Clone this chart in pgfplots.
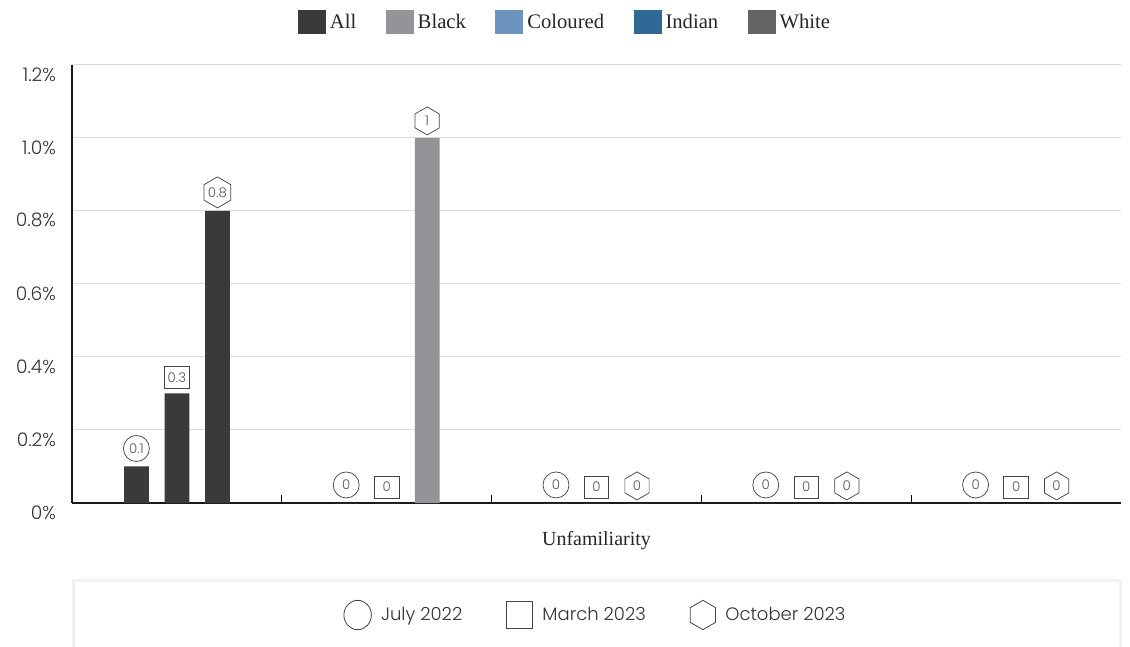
\documentclass[border=0pt]{standalone}
\usepackage{pgfplots}
\pgfplotsset{compat=1.18}
\usetikzlibrary{shapes.geometric}
\usepackage{fontspec}
\setmainfont{Liberation Serif}
\newfontfamily\lightsans{Poppins Light}
\definecolor{cAll}{HTML}{3A3A3A}
\definecolor{cBlack}{HTML}{949398}
\definecolor{cColoured}{HTML}{6C94BF}
\definecolor{cIndian}{HTML}{2E6894}
\definecolor{cWhite}{HTML}{666463}
\definecolor{gridc}{HTML}{DCDCDC}
\definecolor{shapec}{HTML}{444444}
\definecolor{labtext}{HTML}{555555}
\definecolor{boxc}{HTML}{F2F2F2}
\begin{document}
\begin{tikzpicture}
\useasboundingbox (0,0) rectangle (847.5pt,484.5pt);
% bottom legend frame
\draw[boxc, line width=2.2pt] (55.1pt,-5pt) -- (55.1pt,49.4pt) -- (840.4pt,49.4pt) -- (840.4pt,-5pt);
\begin{axis}[
  at={(54pt,107.25pt)}, anchor=south west,
  scale only axis, width=786.75pt, height=328.5pt,
  xmin=-0.5, xmax=4.5, ymin=0, ymax=1.2,
  axis x line*=bottom, axis y line*=left,
  axis line style={-, black!90, line width=0.9pt},
  ytick={0,0.2,0.4,0.6,0.8,1.0,1.2},
  yticklabels={0\%,0.2\%,0.4\%,0.6\%,0.8\%,1.0\%,1.2\%},
  ymajorgrids, grid style={gridc, line width=0.75pt},
  ytick style={draw=none},
  yticklabel style={font=\lightsans\fontsize{14}{16}\selectfont, text=black!80, yshift=-7pt, xshift=-8.5pt},
  xtick={0.5,1.5,2.5,3.5}, xticklabels={},
  xtick align=inside, major tick length=6pt,
  xtick style={black, line width=0.75pt},
  xlabel={Unfamiliarity},
  x label style={at={(axis description cs:0.5,0)}, anchor=center, yshift=-28.5pt, font=\fontsize{15}{18}\selectfont, text=black!85},
  /pgf/number format/assume math mode=true,
  legend columns=5,
  legend style={at={(0.471,1)}, anchor=center, yshift=32.25pt, draw=none, fill=none,
    font=\fontsize{15.5}{18}\selectfont, text=black!85,
    /tikz/every even column/.append style={column sep=19pt},
    nodes={inner sep=3pt}},
  swatch/.style={legend image code/.code={\fill[##1] (0pt,-9pt) rectangle (21pt,9pt);}},
  lab/.style={only marks, mark=*, mark size=0pt, mark options={draw=none, fill=none}, forget plot,
    nodes near coords, point meta=y,
    every node near coord/.append style={anchor=south, yshift=3.5pt, draw=shapec, line width=0.55pt,
      inner sep=0pt, text=labtext, font=\lightsans\fontsize{10}{12}\selectfont}},
]
\addplot[ybar, bar width=0.118, bar shift=0pt, draw=none, fill=cAll, swatch] coordinates {(-0.193,0.1) (0,0.3) (0.193,0.8)};
\addlegendentry{All}
\addplot[ybar, bar width=0.118, bar shift=0pt, draw=none, fill=cBlack, swatch] coordinates {(0.807,0) (1,0) (1.193,1)};
\addlegendentry{Black}
\addplot[ybar, bar width=0.118, bar shift=0pt, draw=none, fill=cColoured, swatch] coordinates {(1.807,0) (2,0) (2.193,0)};
\addlegendentry{Coloured}
\addplot[ybar, bar width=0.118, bar shift=0pt, draw=none, fill=cIndian, swatch] coordinates {(2.807,0) (3,0) (3.193,0)};
\addlegendentry{Indian}
\addplot[ybar, bar width=0.118, bar shift=0pt, draw=none, fill=cWhite, swatch] coordinates {(3.807,0) (4,0) (4.193,0)};
\addlegendentry{White}
% value labels: July 2022 (circle)
\addplot[lab, every node near coord/.append style={circle, minimum size=19.5pt}]
  coordinates {(-0.193,0.1) (0.807,0) (1.807,0) (2.807,0) (3.807,0)};
% March 2023 (square)
\addplot[lab, every node near coord/.append style={rectangle, minimum width=18.5pt, minimum height=16.5pt}]
  coordinates {(0,0.3) (1,0) (2,0) (3,0) (4,0)};
% October 2023 (hexagon)
\addplot[lab, every node near coord/.append style={regular polygon, regular polygon sides=6, shape border rotate=30, minimum size=21pt, yshift=-1.5pt}]
  coordinates {(0.193,0.8) (1.193,1) (2.193,0) (3.193,0) (4.193,0)};
\end{axis}
\begin{axis}[
  at={(54pt,0pt)}, anchor=south west,
  scale only axis, width=786.75pt, height=49.5pt,
  hide axis, xmin=0, xmax=1, ymin=-0.5, ymax=1.5,
  legend columns=3,
  legend style={at={(0.5,0.5)}, anchor=center, yshift=-1.5pt, draw=none, fill=none,
    font=\lightsans\fontsize{13.5}{16}\selectfont, text=black!80,
    /tikz/every even column/.append style={column sep=30pt},
    nodes={inner sep=3pt}},
]
\addlegendimage{legend image code/.code={\draw[shapec, line width=0.6pt] (10.5pt,0pt) ellipse (10.3pt and 11pt);}}
\addlegendentry{\hspace{4pt}July 2022}
\addlegendimage{legend image code/.code={\draw[shapec, line width=0.6pt] (0.5pt,-10pt) rectangle (20pt,10pt);}}
\addlegendentry{\hspace{4pt}March 2023}
\addlegendimage{legend image code/.code={\draw[shapec, line width=0.6pt] (10.5pt,11pt) -- (20pt,5.5pt) -- (20pt,-5.5pt) -- (10.5pt,-11pt) -- (1pt,-5.5pt) -- (1pt,5.5pt) -- cycle;}}
\addlegendentry{\hspace{4pt}October 2023}
\end{axis}
\end{tikzpicture}
\end{document}
